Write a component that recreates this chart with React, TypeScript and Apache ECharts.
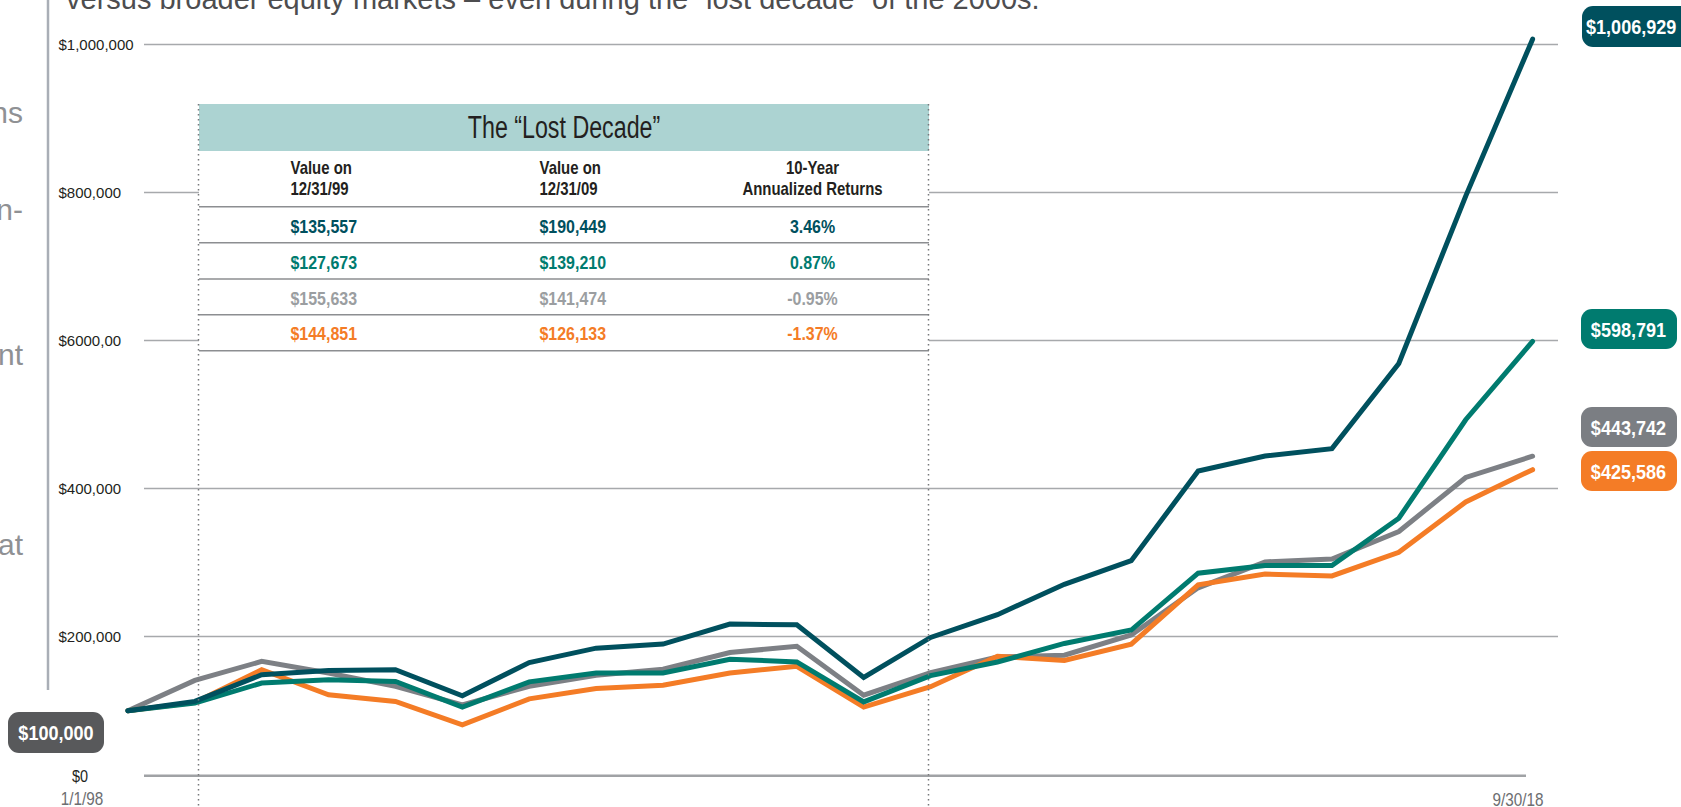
import React, { useEffect, useRef } from 'react';
import * as echarts from 'echarts';

// ---------- data ----------
const dateLabels = [
  '1/1/98', '12/31/98', '12/31/99', '12/31/00', '12/31/01', '12/31/02', '12/31/03', '12/31/04',
  '12/31/05', '12/31/06', '12/31/07', '12/31/08', '12/31/09', '12/31/10', '12/31/11', '12/31/12',
  '12/31/13', '12/31/14', '12/31/15', '12/31/16', '12/31/17', '9/30/18',
];
const darkSeries = [100000, 112600, 148600, 154500, 155400, 120300, 165000, 184500, 190000, 217000, 216000, 145000, 199000, 229700, 270800, 302700, 423700, 444000, 454000, 569000, 795000, 1006929];
const greenSeries = [100000, 110400, 137400, 141900, 139600, 105000, 139000, 151000, 151000, 169500, 166000, 112000, 147500, 165800, 190900, 209000, 285800, 296000, 296000, 360000, 493000, 598791];
const graySeries = [100000, 141000, 166700, 151000, 132900, 108000, 133000, 148000, 156000, 178600, 187000, 121000, 151500, 172600, 175000, 202300, 266000, 301000, 305000, 342000, 415000, 443742];
const orangeSeries = [100000, 111300, 155400, 121600, 112600, 81000, 116000, 130000, 134500, 151000, 160000, 105000, 132500, 173500, 168000, 190000, 270000, 284500, 282000, 314000, 382000, 425586];

const yTickValues = [0, 200000, 400000, 600000, 800000, 1000000];
const yTickLabels = ['$0', '$200,000', '$400,000', '$6000,00', '$800,000', '$1,000,000'];

const startLabel = '$100,000';
const endLabels = ['$1,006,929', '$598,791', '$443,742', '$425,586'];

const tableTitle = 'The \u201CLost Decade\u201D';
const tableHeaders = ['Value on\n12/31/99', 'Value on\n12/31/09', '10-Year\nAnnualized Returns'];
const tableValues1999 = ['$135,557', '$127,673', '$155,633', '$144,851'];
const tableValues2009 = ['$190,449', '$139,210', '$141,474', '$126,133'];
const tableReturns = ['3.46%', '0.87%', '-0.95%', '-1.37%'];

const topText = 'versus broader equity markets \u2013 even during the \u201Clost decade\u201D of the 2000s.';
const leftFragments = ['ns', 'n-', 'nt', 'at'];

// ---------- styles ----------
const C_DARK = '#00505e';
const C_GREEN = '#007b6f';
const C_GRAY = '#7d8085';
const C_ORANGE = '#f47c26';
const C_GRAY_TXT = '#9b9ea1';
const SANS = "'Liberation Sans', Arial, 'Noto Sans', sans-serif";

const GRID_TOP = 44.3;
const GRID_BOTTOM = 22.2;

export default function App() {
  const ref = useRef<HTMLDivElement>(null);

  useEffect(() => {
    document.body.style.margin = '0';
    if (!ref.current) return;
    const chart = echarts.init(ref.current, undefined, { renderer: 'svg' });

    const mk = (name: string, data: number[], color: string, z: number) => ({
      name,
      type: 'line',
      xAxisIndex: 0,
      yAxisIndex: 0,
      data: data.map((v, i) => [i, v]),
      symbol: 'none',
      clip: false,
      z,
      silent: true,
      lineStyle: { color, width: 5, join: 'miter', cap: 'round' },
      emphasis: { disabled: true },
    });

    const rowColors = [C_DARK, C_GREEN, C_GRAY_TXT, C_ORANGE];
    const rowY = [226.5, 262.5, 298.5, 334];
    const rowLines = [206.7, 242.7, 279, 314.7, 350.7];

    const cText = (x: number, y: number, text: string, font: string, fill: string, align: string, sx: number, z = 62, extra: any = {}) => ({
      type: 'text', z, x, y, scaleX: sx, scaleY: 1,
      style: { text, font, fill, textAlign: align, textVerticalAlign: 'middle', ...extra },
    });

    const graphic: any[] = [];
    // left frame line
    graphic.push({ type: 'line', z: 50, shape: { x1: 48, y1: 0, x2: 48, y2: 690 }, style: { stroke: '#a9aeb6', lineWidth: 2.5 } });
    // top text
    graphic.push({ type: 'text', z: 50, x: 66, y: 13, style: { text: topText, font: `29px ${SANS}`, fill: '#4d4d4f', textAlign: 'left', textVerticalAlign: 'bottom' } });
    // left fragments
    const fragY = [112, 209, 354, 544];
    leftFragments.forEach((t, i) => {
      graphic.push({ type: 'text', z: 50, x: 23, y: fragY[i], style: { text: t, font: `30px ${SANS}`, fill: '#8f9194', textAlign: 'right', textVerticalAlign: 'middle' } });
    });
    // baseline + $0 + date labels
    graphic.push({ type: 'line', z: 50, shape: { x1: 144, y1: 775.7, x2: 1526, y2: 775.7 }, style: { stroke: '#a0a2a5', lineWidth: 2.5 } });
    graphic.push(cText(80, 776, yTickLabels[0], `17px ${SANS}`, '#231f20', 'center', 0.85, 50));
    graphic.push(cText(82, 799, dateLabels[0], `18px ${SANS}`, '#6d6e71', 'center', 0.85, 50));
    graphic.push(cText(1518, 800, dateLabels[dateLabels.length - 1], `18px ${SANS}`, '#6d6e71', 'center', 0.85, 50));

    // table
    graphic.push({ type: 'rect', z: 60, shape: { x: 199, y: 150, width: 730, height: 202 }, style: { fill: '#ffffff' } });
    graphic.push({ type: 'rect', z: 61, shape: { x: 199, y: 104, width: 730, height: 47 }, style: { fill: '#acd3d2' } });
    graphic.push(cText(564, 127, tableTitle, `31px ${SANS}`, '#231f20', 'center', 0.75));
    const colX = [290.5, 539.5, 812.5];
    const colAlign = ['left', 'left', 'center'];
    tableHeaders.forEach((t, i) => {
      graphic.push(cText(colX[i], 179, t, `bold 18px ${SANS}`, '#231f20', colAlign[i], 0.83, 62, { lineHeight: 21 }));
    });
    rowLines.forEach((y) => {
      graphic.push({ type: 'line', z: 62, shape: { x1: 199, y1: y, x2: 929, y2: y }, style: { stroke: '#8c8e91', lineWidth: 1.5 } });
    });
    [tableValues1999, tableValues2009, tableReturns].forEach((col, ci) => {
      col.forEach((t, ri) => {
        graphic.push(cText(colX[ci], rowY[ri], t, `bold 19px ${SANS}`, rowColors[ri], colAlign[ci], 0.84));
      });
    });
    // dotted verticals
    [198.5, 928.5].forEach((x) => {
      graphic.push({ type: 'line', z: 70, shape: { x1: x, y1: 104, x2: x, y2: 807 }, style: { stroke: '#77787b', lineWidth: 1.5, lineDash: [1.5, 3.5] } });
    });

    // badges
    const badge = (x: number, y: number, w: number, h: number, fill: string, text: string, tx: number, align: string) => ({
      type: 'group',
      z: 80,
      children: [
        { type: 'rect', z: 80, shape: { x, y, width: w, height: h, r: 11 }, style: { fill } },
        cText(tx, y + h / 2, text, `bold 21px ${SANS}`, '#ffffff', align, 0.86, 81),
      ],
    });
    graphic.push(badge(8, 712, 96, 41, '#58595b', startLabel, 56, 'center'));
    graphic.push(badge(1582, 6, 115, 41, C_DARK, endLabels[0], 1586, 'left'));
    graphic.push(badge(1581, 309, 96, 40, C_GREEN, endLabels[1], 1628.5, 'center'));
    graphic.push(badge(1581, 407, 96, 40, '#7b7e83', endLabels[2], 1628.5, 'center'));
    graphic.push(badge(1581, 451, 96, 40, C_ORANGE, endLabels[3], 1628.5, 'center'));

    chart.setOption({
      animation: false,
      grid: [
        // data grid: first point to last point
        { left: 127.9, right: 1681 - 1532.6, top: GRID_TOP, bottom: GRID_BOTTOM, containLabel: false, outerBoundsMode: 'none' },
        // reference grid for gridlines & tick labels
        { left: 144, right: 123, top: GRID_TOP, bottom: GRID_BOTTOM, containLabel: false, outerBoundsMode: 'none' },
      ],
      xAxis: [
        { type: 'category', gridIndex: 0, data: dateLabels, boundaryGap: false, show: false },
        { type: 'value', gridIndex: 1, min: 0, max: 1, show: false },
      ],
      yAxis: [
        { type: 'value', gridIndex: 0, min: 0, max: 1000000, interval: 200000, show: false, splitLine: { show: false } },
        {
          type: 'value',
          gridIndex: 1,
          min: 0,
          max: 1000000,
          interval: 200000,
          axisLine: { show: false },
          axisTick: { show: false },
          axisLabel: {
            align: 'left',
            margin: 144 - 58.5,
            fontFamily: SANS,
            fontSize: 15,
            color: '#231f20',
            formatter: (v: number) => {
              const i = yTickValues.indexOf(v);
              return v === 0 || i < 0 ? '' : yTickLabels[i];
            },
          },
          splitLine: { show: true, showMinLine: false, lineStyle: { color: '#a7a9ac', width: 1.3 } },
        },
      ],
      series: [
        mk('Gray', graySeries, C_GRAY, 3),
        mk('Orange', orangeSeries, C_ORANGE, 4),
        mk('Green', greenSeries, C_GREEN, 5),
        mk('Dark', darkSeries, C_DARK, 6),
      ],
      graphic,
    });

    return () => chart.dispose();
  }, []);

  return <div ref={ref} style={{ width: 1681, height: 807 }} />;
}
